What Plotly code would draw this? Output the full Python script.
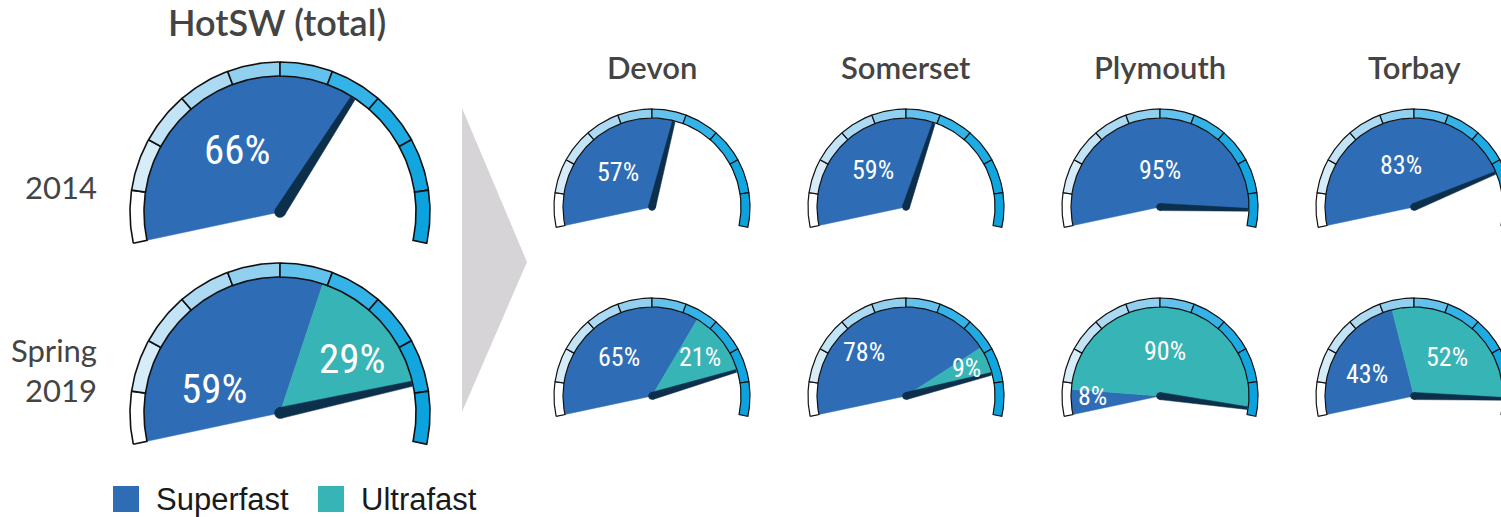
import numpy as np
import plotly.graph_objects as go

# ---------------- data ----------------
regions = ["HotSW (total)", "Devon", "Somerset", "Plymouth", "Torbay"]
period_labels = ["2014", "Spring<br>2019"]
superfast_2014 = [66, 57, 59, 95, 83]
ultrafast_2014 = [0, 0, 0, 0, 0]
superfast_2019 = [59, 65, 78, 8, 43]
ultrafast_2019 = [29, 21, 9, 90, 52]
legend_labels = ["Superfast", "Ultrafast"]

# ---------------- styling / layout ----------------
W, H = 1501, 517
START, SPAN = 192.0, 204.0          # gauge sweep in degrees
RING_COLORS = ["#ffffff", "#d6edf9", "#c3e4f7", "#addaf3", "#92d0f0",
               "#63c1ed", "#33b3e8", "#1eabe4", "#12a6e1", "#0ba2de"]
SUPER_C = "#2e6db5"
ULTRA_C = "#36b4b6"
NEEDLE_C = "#0c2f4c"
TITLE_C = "#444444"
PCT_FONT = "Liberation Sans Narrow, Arial Narrow, Roboto Condensed, DejaVu Sans Condensed, sans-serif"
TITLE_FONT = "Lato, Open Sans, sans-serif"

# gauge geometry: per column centre x, radius, ring thickness; per row centre y
col_x = [280, 652, 906, 1160, 1414]
col_r = [150, 98, 98, 98, 98]
col_ring = [14, 9, 9, 9, 9]
col_lw = [1.6, 1.2, 1.2, 1.2, 1.2]
col_font = [41, 26, 26, 26, 26]
col_needle = [(5.5, 2.6), (3.6, 1.4), (3.6, 1.4), (3.6, 1.4), (3.6, 1.4)]
row_y = [[212, 207, 207, 207, 207], [413, 396, 396, 396, 396]]

# label placement overrides: (row, col, series) -> (angle deg, radius fraction)
label_pos = {
    (1, 0, 0): (160, 0.47), (1, 0, 1): (37, 0.60),
    (1, 1, 0): (130, 0.52), (1, 1, 1): (39, 0.63),
    (1, 2, 0): (134, 0.62), (1, 2, 1): (25, 0.68),
    (0, 3, 0): (90, 0.38),
    (1, 3, 0): (180, 0.69), (1, 3, 1): (84, 0.46),
    (0, 4, 0): (107, 0.45),
    (1, 4, 0): (155, 0.53), (1, 4, 1): (50, 0.52),
}

fig = go.Figure()


def ang(p):
    return START - SPAN * p / 100.0


def arc(cx, cy, r, a0, a1):
    n = max(int(abs(a1 - a0) / 1.0) + 2, 3)
    t = np.radians(np.linspace(a0, a1, n))
    return cx + r * np.cos(t), cy - r * np.sin(t)


def poly(xs, ys, fill, lc=None, lw=0):
    fig.add_trace(go.Scatter(
        x=list(xs) + [xs[0]], y=list(ys) + [ys[0]], mode="lines",
        fill="toself", fillcolor=fill,
        line=dict(color=lc if lc else fill, width=lw if lc else 0.5),
        hoverinfo="skip", showlegend=False))


def gauge(row, col, values):
    cx, cy = col_x[col], row_y[row][col]
    R = col_r[col]
    rin = R - col_ring[col]
    # wedges
    cum = 0.0
    for si, (v, colr) in enumerate(zip(values, [SUPER_C, ULTRA_C])):
        if v <= 0:
            continue
        a0, a1 = ang(cum), ang(cum + v)
        ax, ay = arc(cx, cy, rin, a0, a1)
        poly([cx] + list(ax), [cy] + list(ay), colr)
        cum += v
    # ring segments
    n = len(RING_COLORS)
    for k, rc in enumerate(RING_COLORS):
        a0 = START - SPAN * k / n
        a1 = START - SPAN * (k + 1) / n
        ox, oy = arc(cx, cy, R, a0, a1)
        ix, iy = arc(cx, cy, rin, a1, a0)
        poly(list(ox) + list(ix), list(oy) + list(iy), rc, "#111111", col_lw[col])
    # needle
    a = np.radians(ang(cum))
    w0, w1 = col_needle[col]
    L = rin - 1
    ux, uy = np.cos(a), -np.sin(a)
    px, py = -uy, ux
    nx = [cx + px * w0, cx + ux * L + px * w1, cx + ux * L - px * w1, cx - px * w0]
    ny = [cy + py * w0, cy + uy * L + py * w1, cy + uy * L - py * w1, cy - py * w0]
    poly(nx, ny, NEEDLE_C)
    t = np.radians(np.linspace(0, 360, 40))
    poly(cx + w0 * np.cos(t), cy + w0 * np.sin(t), NEEDLE_C)
    # labels
    cum = 0.0
    for si, v in enumerate(values):
        if v <= 0:
            continue
        mid = ang(cum + v / 2.0)
        la, lr = label_pos.get((row, col, si), (mid, 0.5 if si == 0 else 0.62))
        lx = cx + lr * R * np.cos(np.radians(la))
        ly = cy - lr * R * np.sin(np.radians(la))
        fig.add_annotation(x=lx, y=ly, text=f"{v}%", showarrow=False,
                           xanchor="center", yanchor="middle",
                           font=dict(family=PCT_FONT, size=col_font[col], color="white"))
        cum += v


for c in range(len(regions)):
    gauge(0, c, [superfast_2014[c], ultrafast_2014[c]])
    gauge(1, c, [superfast_2019[c], ultrafast_2019[c]])

# region titles
title_y = [22, 67, 67, 67, 67]
title_size = [36, 31, 31, 31, 31]
for c, name in enumerate(regions):
    fig.add_annotation(x=col_x[c] - (3 if c == 0 else 0), y=title_y[c], text=name, showarrow=False,
                       xanchor="center", yanchor="middle",
                       font=dict(family=TITLE_FONT, size=title_size[c], color=TITLE_C, weight=600))

# period labels
for r, lab in enumerate(period_labels):
    fig.add_annotation(x=99, y=[187, 370][r], text=lab, showarrow=False,
                       xanchor="right", yanchor="middle", align="right",
                       font=dict(family=TITLE_FONT, size=31, color=TITLE_C))

# chevron separator
fig.add_shape(type="path", path="M 462 108 L 527 262 L 462 412 Z",
              fillcolor="#d6d4d7", line=dict(width=0), layer="below")

# legend
leg_x = [126, 331]
for i, (lab, colr) in enumerate(zip(legend_labels, [SUPER_C, ULTRA_C])):
    fig.add_trace(go.Scatter(x=[leg_x[i]], y=[499], mode="markers",
                             marker=dict(symbol="square", size=26, color=colr),
                             hoverinfo="skip", showlegend=False))
    fig.add_annotation(x=leg_x[i] + 28, y=499, text=lab, showarrow=False,
                       xanchor="left", yanchor="middle",
                       font=dict(family="Liberation Sans, Arial, sans-serif", size=31, color="#1a1a1a"))

fig.update_layout(
    width=W, height=H, margin=dict(l=0, r=0, t=0, b=0),
    paper_bgcolor="white", plot_bgcolor="white",
    xaxis=dict(range=[0, W], visible=False, fixedrange=True),
    yaxis=dict(range=[H, 0], visible=False, fixedrange=True),
    showlegend=False,
)

fig.write_html("out.html", config={"displayModeBar": False},
               post_script="document.body.style.margin='0px';document.body.style.overflow='hidden';")
